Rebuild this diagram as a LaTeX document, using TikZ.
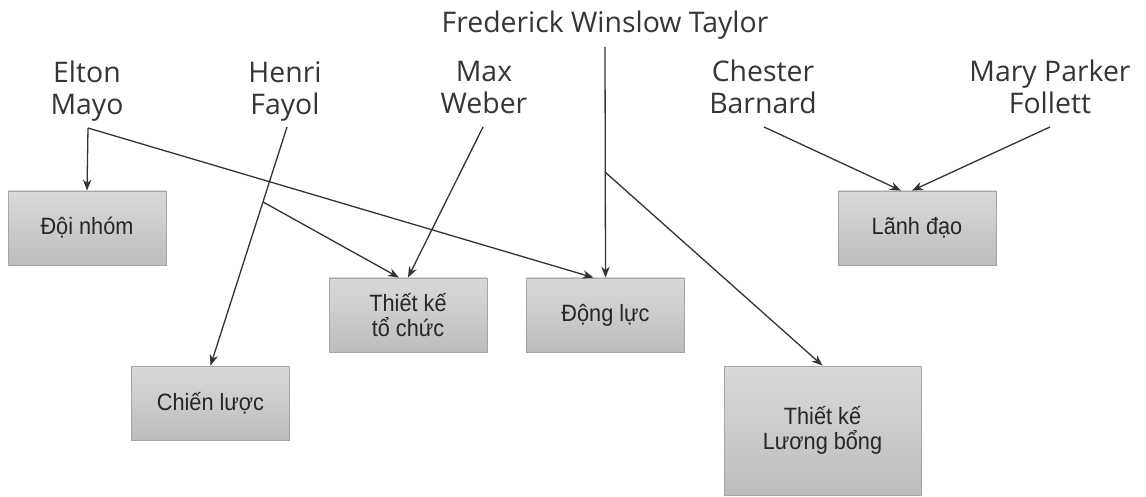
\documentclass[tikz,border=0pt]{standalone}
\usepackage{fontspec}
\usetikzlibrary{arrows.meta,calc}
\newfontfamily\namefont{Open Sans}
\newfontfamily\boxfont[FakeStretch=0.92]{Liberation Sans}
\definecolor{boxtop}{HTML}{D9D9D9}
\definecolor{boxbot}{HTML}{BDBDBD}
\definecolor{boxline}{HTML}{A6A6A6}
\definecolor{linkgray}{HTML}{333333}
\definecolor{namegray}{HTML}{353535}
\tikzset{
  topic/.style={draw=boxline, top color=boxtop, bottom color=boxbot,
    minimum width=79pt, minimum height=37pt, inner sep=0pt, align=center,
    text=black!85, font=\boxfont\fontsize{11.8}{12.5}\selectfont},
  author/.style={anchor=north, inner sep=0pt, align=center, text=namegray,
    font=\namefont\fontsize{14.2}{16}\selectfont},
  link/.style={draw=linkgray, line width=0.65pt, -{Stealth[length=5.5pt,width=4.2pt]}}
}

\begin{document}
\begin{tikzpicture}[x=0.5pt, y=-0.5pt]
    \useasboundingbox (0,0) rectangle (1146,497);

    % Authors
    \node[author] (taylor) at (605,11) {Frederick Winslow Taylor};
    \node[author] (mayo) at (87,61) {Elton\\Mayo};
    \node[author] (fayol) at (285,61) {Henri\\Fayol};
    \node[author] (weber) at (484,61) {Max\\Weber};
    \node[author] (barnard) at (763,60) {Chester\\Barnard};
    \node[author] (follett) at (1050,60) {Mary Parker\\Follett};

    % Topics
    \node[topic] (dnhom) at (87,228) {Đội nhóm};
    \node[topic] (lanh) at (917,228) {Lãnh đạo};
    \node[topic] (tochuc) at (408,315) {Thiết kế\\tổ chức};
    \node[topic] (dong) at (605.5,315) {Động lực};
    \node[topic] (chien) at (210.5,403) {Chiến lược};
    \node[topic, minimum width=98.5pt, minimum height=64.5pt] (luong) at (822.5,430.5) {Thiết kế\\Lương bổng};

    % Line starts under the names
    \coordinate (taylor-o) at (605,47);
    \coordinate (mayo-o) at (88,128);
    \coordinate (fayol-o) at (287,127);
    \coordinate (weber-o) at (483,127);
    \coordinate (barnard-o) at (764,127);
    \coordinate (follett-o) at (1050,127);
    % Branch points
    \coordinate (fayol-b) at ($(fayol-o)!0.314!(chien.north)$);
    \coordinate (taylor-b) at (605,172);

    % Links
    \draw[link] (mayo-o) -- (dnhom.north);
    \draw[link] (mayo-o) -- ($(dong.north)+(-12,0)$);
    \draw[link] (fayol-o) -- (chien.north);
    \draw[link] (fayol-b) -- ($(tochuc.north)+(-9,0)$);
    \draw[link] (weber-o) -- (tochuc.north);
    \draw[link] (taylor-o) -- (dong.north);
    \draw[link] (taylor-b) -- (luong.north);
    \draw[link] (barnard-o) -- ($(lanh.north)+(-16,0)$);
    \draw[link] (follett-o) -- ($(lanh.north)+(-5,0)$);
\end{tikzpicture}
\end{document}
